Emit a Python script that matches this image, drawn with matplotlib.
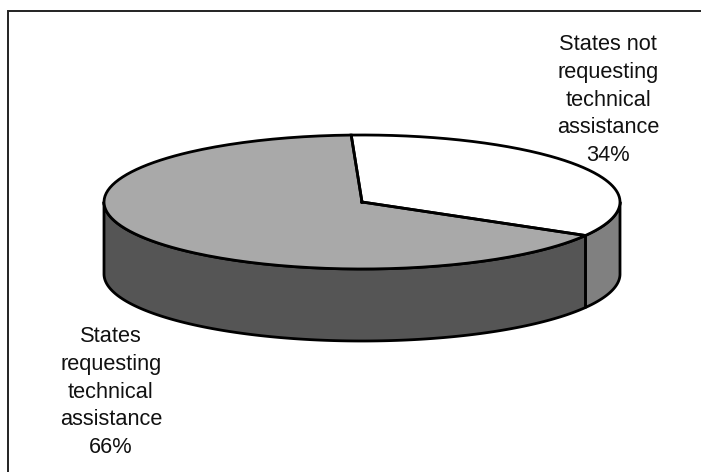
import numpy as np
import matplotlib
matplotlib.use("Agg")
import matplotlib.pyplot as plt
from matplotlib.patches import Polygon
from matplotlib.transforms import Affine2D

categories = ["States not\nrequesting\ntechnical\nassistance",
              "States\nrequesting\ntechnical\nassistance"]
shares = [34, 66]
top_colors = ["#ffffff", "#a9a9a9"]
side_colors = ["#808080", "#555555"]

W, H = 701, 472
CX, CY, RX, RY, DEPTH = 362, 202, 258, 67, 72
START_ANGLE = -30

plt.rcParams["font.family"] = ["Liberation Sans", "DejaVu Sans"]
fig = plt.figure(figsize=(W / 100, H / 100), dpi=100)
ax = fig.add_axes([0, 0, 1, 1])


def rim(a0, a1, n=200):
    t = np.radians(np.linspace(a0, a1, n))
    return CX + RX * np.cos(t), CY - RY * np.sin(t)


# top face, drawn on a unit circle and squashed by the transform below
wedges, _ = ax.pie(shares, colors=top_colors, startangle=START_ANGLE,
                   counterclock=True, radius=1.0,
                   wedgeprops=dict(edgecolor="none"))
ax.set_aspect("auto")
ax.set_xlim(0, W)
ax.set_ylim(H, 0)
ax.axis("off")

scale = Affine2D().scale(RX, -RY).translate(CX, CY)
for w in wedges:
    w.set_transform(scale + ax.transData)
    w.set_zorder(3)

# walls: only the part of each slice on the front half of the disc gets one
edges = np.cumsum([0] + shares) / 100 * 360 + START_ANGLE
for i, color in enumerate(side_colors):
    a0, a1 = edges[i], edges[i + 1]
    lo = max(a0, 180) if a0 > 0 else a0
    hi = min(a1, 0) if a0 < 0 else min(a1, 360)
    x, y = rim(lo, hi)
    pts = np.r_[np.c_[x, y], np.c_[x[::-1], y[::-1] + DEPTH]]
    ax.add_patch(Polygon(pts, closed=True, fc=color, ec="black", lw=2.0,
                         joinstyle="round", zorder=2))

# outlines of the top face
for i in range(len(shares)):
    x, y = rim(edges[i], edges[i + 1])
    ax.plot(np.r_[CX, x, CX], np.r_[CY, y, CY], color="black", lw=2.0,
            solid_joinstyle="miter", zorder=4)

# chart frame: its right and bottom sides fall outside the canvas
ax.plot([7.5, 7.5, W + 5], [H + 5, 10.5, 10.5], color="#222222", lw=1.4,
        solid_joinstyle="miter", zorder=1)

ax.text(608, 100, f"{categories[0]}\n{shares[0]}%", ha="center", va="center",
        fontsize=15.7, linespacing=1.43, color="#111111", zorder=5)
ax.text(111, 392, f"{categories[1]}\n{shares[1]}%", ha="center", va="center",
        fontsize=15.7, linespacing=1.43, color="#111111", zorder=5)

fig.savefig("out.png", dpi=100, facecolor="white")
